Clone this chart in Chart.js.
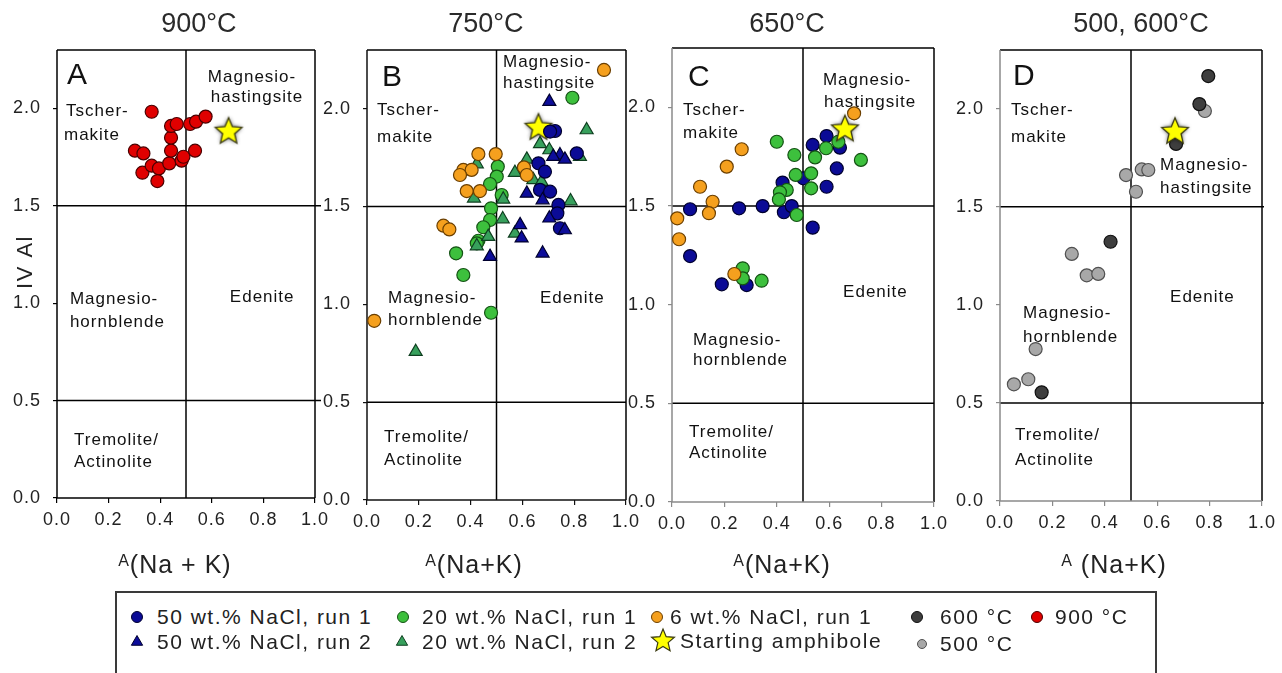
<!DOCTYPE html>
<html><head><meta charset="utf-8">
<script src="https://cdn.jsdelivr.net/npm/chart.js@4.4.1/dist/chart.umd.min.js"></script>
<style>
html,body{margin:0;padding:0;background:#fff;width:1282px;height:673px;overflow:hidden;font-family:"Liberation Sans",Arial,sans-serif;}
canvas{position:absolute;top:0;}
#legend{position:absolute;left:115px;top:591px;width:1042px;height:100px;border:2px solid #3a3a3a;box-sizing:border-box;}
.lt{position:absolute;font-size:21px;letter-spacing:1.5px;color:#222;white-space:nowrap;line-height:21px;height:21px;}
</style></head><body>
<div id="legend"></div>
<script>
// ---------------- data ----------------
const TITLES  = ['900°C', '750°C', '650°C', '500, 600°C'];
const LETTERS = ['A', 'B', 'C', 'D'];
const X_TICKS = [0, 0.2, 0.4, 0.6, 0.8, 1.0];
const Y_TICKS = [0, 0.5, 1.0, 1.5, 2.0];

// Panel A – 900 °C
const A_900C  = [[0.367,1.983],[0.302,1.783],[0.335,1.769],[0.331,1.670],[0.367,1.706],[0.395,1.692],
                 [0.389,1.627],[0.435,1.718],[0.442,1.783],[0.442,1.850],[0.442,1.910],[0.464,1.920],
                 [0.483,1.732],[0.490,1.752],[0.516,1.920],[0.539,1.932],[0.576,1.958],[0.535,1.783]];
const A_START = [[0.665,1.886]];

// Panel B – 750 °C
const B_NACL50_R1 = [[0.726,1.886],[0.707,1.883],[0.810,1.772],[0.662,1.721],[0.687,1.678],[0.668,1.585],
                     [0.707,1.576],[0.739,1.508],[0.735,1.465],[0.745,1.389]];
const B_NACL50_R2 = [[0.704,2.036],[0.745,1.763],[0.764,1.741],[0.719,1.755],[0.617,1.567],[0.678,1.533],
                     [0.704,1.440],[0.764,1.380],[0.591,1.406],[0.597,1.338],[0.678,1.261],[0.475,1.244]];
const B_NACL20_R1 = [[0.793,2.056],[0.505,1.704],[0.501,1.653],[0.475,1.615],[0.520,1.559],[0.479,1.491],
                     [0.475,1.431],[0.449,1.394],[0.430,1.325],[0.424,1.312],[0.344,1.261],[0.372,1.150],[0.479,0.957]];
const B_NACL20_R2 = [[0.848,1.891],[0.668,1.820],[0.704,1.789],[0.822,1.755],[0.571,1.673],[0.642,1.636],
                     [0.674,1.627],[0.424,1.717],[0.413,1.542],[0.526,1.537],[0.524,1.436],[0.571,1.363],
                     [0.468,1.346],[0.424,1.298],[0.786,1.528],[0.188,0.758],[0.617,1.741]];
const B_NACL6_R1  = [[0.915,2.198],[0.430,1.768],[0.497,1.768],[0.372,1.687],[0.404,1.687],[0.359,1.661],
                     [0.385,1.579],[0.436,1.579],[0.606,1.700],[0.617,1.661],[0.295,1.402],[0.318,1.383],[0.028,0.916]];
const B_START = [[0.662,1.908]];

// Panel C – 650 °C
const C_NACL50_R1 = [[0.590,1.854],[0.537,1.809],[0.641,1.795],[0.629,1.690],[0.590,1.597],[0.501,1.640],
                     [0.422,1.618],[0.069,1.483],[0.256,1.488],[0.346,1.499],[0.427,1.468],[0.457,1.499],
                     [0.537,1.390],[0.069,1.246],[0.190,1.103],[0.285,1.099]];
const C_NACL20_R1 = [[0.400,1.825],[0.467,1.758],[0.472,1.657],[0.438,1.581],[0.412,1.569],[0.408,1.533],
                     [0.476,1.454],[0.546,1.746],[0.531,1.665],[0.531,1.589],[0.588,1.792],[0.635,1.825],
                     [0.721,1.733],[0.270,1.184],[0.270,1.133],[0.342,1.121]];
const C_NACL6_R1  = [[0.695,1.969],[0.266,1.787],[0.209,1.699],[0.107,1.597],[0.155,1.521],[0.141,1.463],
                     [0.020,1.437],[0.027,1.331],[0.238,1.155]];
const C_START = [[0.660,1.893]];

// Panel D – 500 and 600 °C
const D_600C = [[0.795,2.167],[0.761,2.024],[0.672,1.821],[0.422,1.322],[0.159,0.554]];
const D_500C = [[0.782,1.989],[0.481,1.662],[0.541,1.691],[0.566,1.688],[0.519,1.577],[0.274,1.260],
                [0.331,1.151],[0.375,1.158],[0.136,0.775],[0.053,0.595],[0.108,0.621]];
const D_START = [[0.668,1.888]];

// ---------------- styles ----------------
const FONT = '"Liberation Sans", Arial, sans-serif';
const ST = {
  red:    {shape:'circle',   r:6.5, fill:'#e00000', stroke:'#4a0000'},
  blueC:  {shape:'circle',   r:6.5, fill:'#0b0b96', stroke:'#00002e'},
  blueT:  {shape:'triangle', r:7.5, fill:'#0d0d9a', stroke:'#00002e'},
  greenC: {shape:'circle',   r:6.5, fill:'#3dc03d', stroke:'#145214'},
  greenT: {shape:'triangle', r:7.5, fill:'#37a05c', stroke:'#0f3f20'},
  orange: {shape:'circle',   r:6.5, fill:'#f5a01e', stroke:'#6b3f00'},
  dark:   {shape:'circle',   r:6.5, fill:'#3e3e3e', stroke:'#101010'},
  light:  {shape:'circle',   r:6.5, fill:'#a8a8a8', stroke:'#505050'},
  star:   {shape:'star',     r:14,  fill:'#ffff00', stroke:'#3a3a10'}
};

function drawStar(ctx, cx, cy, R, fill, stroke, lw, glow) {
  ctx.save();
  ctx.beginPath();
  for (let i = 0; i < 10; i++) {
    const a = -Math.PI / 2 + i * Math.PI / 5;
    const rad = i % 2 === 0 ? R : R * 0.45;
    const px = cx + rad * Math.cos(a), py = cy + rad * Math.sin(a);
    if (i === 0) ctx.moveTo(px, py); else ctx.lineTo(px, py);
  }
  ctx.closePath();
  if (glow) { ctx.shadowColor = 'rgba(0,0,0,0.75)'; ctx.shadowBlur = glow; }
  ctx.fillStyle = fill; ctx.fill();
  ctx.shadowBlur = 0; ctx.shadowColor = 'transparent';
  ctx.lineWidth = lw; ctx.strokeStyle = stroke; ctx.stroke();
  ctx.restore();
}
function makeStarImage(R, glow) {
  const c = document.createElement('canvas');
  const s = Math.ceil(R * 2 + 10);
  c.width = s; c.height = s;
  drawStar(c.getContext('2d'), s / 2, s / 2 + 1, R, ST.star.fill, ST.star.stroke, 1.3, glow);
  return c;
}
const STAR_IMG = makeStarImage(ST.star.r, 4);

// ---------------- decoration plugin ----------------
const decor = {
  id: 'decor',
  beforeDraw(chart) { chart.ctx.letterSpacing = '1px'; },
  beforeDatasetsDraw(chart, args, o) {
    const ctx = chart.ctx, {left, right, top, bottom} = chart.chartArea;
    const xs = chart.scales.x, ys = chart.scales.y;
    ctx.save();
    ctx.lineCap = 'butt';
    const ln = (x1, y1, x2, y2, col, w) => { ctx.beginPath(); ctx.strokeStyle = col; ctx.lineWidth = w; ctx.moveTo(x1, y1); ctx.lineTo(x2, y2); ctx.stroke(); };
    // classification boundaries
    const xm = xs.getPixelForValue(0.5);
    ln(xm, top, xm, bottom, '#000', 1.5);
    [1.5, 0.5].forEach(v => { const yy = ys.getPixelForValue(v); ln(left, yy, right + o.ext, yy, '#000', 1.5); });
    // frame
    ln(left, top, right, top, '#000', 1.5);
    ln(right, top, right, bottom, '#000', 1.5);
    ln(left, top, left, bottom, o.axisColor, 1.5);
    ln(left, bottom, right, bottom, o.axisColor, 1.5);
    // panel title
    ctx.letterSpacing = '0px';
    ctx.fillStyle = '#2a2a2a';
    ctx.font = '27px ' + FONT; ctx.textAlign = 'center'; ctx.textBaseline = 'middle';
    ctx.fillText(o.title, xs.getPixelForValue(o.titleX), 25);
    // panel letter
    ctx.fillStyle = '#111';
    ctx.font = '30px ' + FONT; ctx.textAlign = 'left';
    ctx.fillText(o.letter, xs.getPixelForValue(o.letterPos[0]), ys.getPixelForValue(o.letterPos[1]));
    // region names
    ctx.letterSpacing = '1px';
    ctx.font = '17px ' + FONT; ctx.fillStyle = '#111';
    o.labels.forEach(l => {
      ctx.textAlign = l[3] || 'left';
      ctx.fillText(l[0], xs.getPixelForValue(l[1]), ys.getPixelForValue(l[2]));
    });
    // x axis title with superscript A
    ctx.fillStyle = '#222'; ctx.textBaseline = 'alphabetic'; ctx.textAlign = 'left';
    ctx.font = '16px ' + FONT; const ws = ctx.measureText('A').width;
    ctx.font = '25px ' + FONT; const wm = ctx.measureText(o.xTitle).width;
    const tot = ws + o.xGap + wm;
    const x0 = xs.getPixelForValue(o.xTitleX) - tot / 2;
    ctx.font = '16px ' + FONT; ctx.fillText('A', x0, 566);
    ctx.font = '25px ' + FONT; ctx.fillText(o.xTitle, x0 + ws + o.xGap, 573);
    // y axis title
    if (o.yTitle) {
      ctx.save();
      ctx.translate(26, 262); ctx.rotate(-Math.PI / 2);
      ctx.letterSpacing = '1.5px';
      ctx.font = '22px ' + FONT; ctx.textAlign = 'center'; ctx.textBaseline = 'middle';
      ctx.fillText(o.yTitle, 0, 0);
      ctx.restore();
    }
    ctx.restore();
  }
};

// ---------------- panels ----------------
const CH = 590;
const PANELS = [
  { cl: 0, cw: 335, area: {left: 57, right: 315, top: 50, bottom: 498}, axisColor: '#000', ext: 6,
    titleX: 0.55, letterPos: [0.039, 2.166], xTitle: '(Na + K)', xTitleX: 0.457, xGap: 0, yTitle: 'IV Al',
    series: [[A_START, ST.star], [A_900C, ST.red]],
    labels: [['Magnesio-',0.756,2.161,'center'],['hastingsite',0.775,2.059,'center'],
             ['Tscher-',0.035,1.987],['makite',0.027,1.863],
             ['Magnesio-',0.05,1.022],['hornblende',0.05,0.904],['Edenite',0.67,1.032],
             ['Tremolite/',0.066,0.298],['Actinolite',0.066,0.185]] },
  { cl: 320, cw: 325, area: {left: 367, right: 626, top: 50, bottom: 500}, axisColor: '#111', ext: 0,
    titleX: 0.459, letterPos: [0.058, 2.157], xTitle: '(Na+K)', xTitleX: 0.413, xGap: 0,
    series: [[B_NACL50_R2, ST.blueT], [B_NACL50_R1, ST.blueC], [B_START, ST.star], [B_NACL6_R1, ST.orange],
             [B_NACL20_R2, ST.greenT], [B_NACL20_R1, ST.greenC]],
    labels: [['Magnesio-',0.525,2.239],['hastingsite',0.525,2.131],
             ['Tscher-',0.039,1.993],['makite',0.039,1.855],
             ['Magnesio-',0.081,1.032],['hornblende',0.081,0.92],['Edenite',0.668,1.032],
             ['Tremolite/',0.066,0.322],['Actinolite',0.066,0.204]] },
  { cl: 628, cw: 325, area: {left: 672, right: 934, top: 48, bottom: 502}, axisColor: '#8a8a8a', ext: 0,
    titleX: 0.439, letterPos: [0.061, 2.148], xTitle: '(Na+K)', xTitleX: 0.42, xGap: 0,
    series: [[C_NACL6_R1, ST.orange], [C_START, ST.star], [C_NACL20_R1, ST.greenC], [C_NACL50_R1, ST.blueC]],
    labels: [['Magnesio-',0.576,2.138],['hastingsite',0.58,2.026],
             ['Tscher-',0.042,1.986],['makite',0.042,1.869],['Edenite',0.653,1.064],
             ['Magnesio-',0.08,0.821],['hornblende',0.08,0.719],
             ['Tremolite/',0.065,0.355],['Actinolite',0.065,0.248]] },
  { cl: 945, cw: 337, area: {left: 1000, right: 1262, top: 50, bottom: 501}, axisColor: '#8a8a8a', ext: 2,
    titleX: 0.538, letterPos: [0.05, 2.162], xTitle: '(Na+K)', xTitleX: 0.435, xGap: 8,
    series: [[D_START, ST.star], [D_600C, ST.dark], [D_500C, ST.light]],
    labels: [['Tscher-',0.042,1.994],['makite',0.042,1.856],
             ['Magnesio-',0.611,1.713],['hastingsite',0.611,1.596],['Edenite',0.649,1.04],
             ['Magnesio-',0.088,0.959],['hornblende',0.088,0.836],
             ['Tremolite/',0.057,0.337],['Actinolite',0.057,0.209]] }
];

PANELS.forEach((p, i) => {
  const cv = document.createElement('canvas');
  cv.width = p.cw; cv.height = CH;
  cv.style.left = p.cl + 'px';
  cv.style.width = p.cw + 'px'; cv.style.height = CH + 'px';
  document.body.appendChild(cv);
  const yW = p.area.left - p.cl, xH = CH - p.area.bottom;
  new Chart(cv, {
    type: 'scatter',
    data: { datasets: p.series.map(([pts, st]) => ({
      data: pts.map(q => ({x: q[0], y: q[1]})),
      pointStyle: st.shape === 'star' ? STAR_IMG : st.shape,
      pointRadius: st.r, pointHoverRadius: st.r,
      pointBackgroundColor: st.fill, pointBorderColor: st.stroke, pointBorderWidth: 1.2,
      clip: false
    })) },
    options: {
      responsive: false, animation: false, devicePixelRatio: 1, events: [],
      layout: { padding: { top: p.area.top, left: 0, bottom: 0, right: p.cl + p.cw - p.area.right } },
      plugins: {
        legend: { display: false }, tooltip: { enabled: false },
        decor: { title: TITLES[i], titleX: p.titleX, letter: LETTERS[i], letterPos: p.letterPos,
                 labels: p.labels, axisColor: p.axisColor, ext: p.ext,
                 xTitle: p.xTitle, xTitleX: p.xTitleX, xGap: p.xGap, yTitle: p.yTitle }
      },
      scales: {
        x: { type: 'linear', min: 0, max: 1,
             afterBuildTicks: s => { s.ticks = X_TICKS.map(v => ({value: v})); },
             afterFit: s => { s.height = xH; },
             ticks: { callback: v => Number(v).toFixed(1), font: { size: 18, family: FONT }, color: '#222',
                      padding: 6, maxRotation: 0, autoSkip: false },
             grid: { drawOnChartArea: false, tickLength: 5, color: p.axisColor, lineWidth: 1.2 },
             border: { display: false } },
        y: { type: 'linear', min: 0, max: 2.3,
             afterBuildTicks: s => { s.ticks = Y_TICKS.map(v => ({value: v})); },
             afterFit: s => { s.width = yW; },
             ticks: { callback: v => Number(v).toFixed(1), font: { size: 18, family: FONT }, color: '#222',
                      padding: 12, autoSkip: false },
             grid: { drawOnChartArea: false, tickLength: 4, color: p.axisColor, lineWidth: 1.2 },
             border: { display: false } }
      }
    },
    plugins: [decor]
  });
});

// ---------------- legend (HTML) ----------------
const LEGEND = [
  { st: ST.blueC,  mx: 137, my: 617, tx: 157, text: '50 wt.% NaCl, run 1', mr: 5.5 },
  { st: ST.greenC, mx: 403, my: 617, tx: 422, text: '20 wt.% NaCl, run 1', mr: 5.5 },
  { st: ST.orange, mx: 657, my: 617, tx: 670, text: '6 wt.% NaCl, run 1',  mr: 5.5 },
  { st: ST.dark,   mx: 917, my: 617, tx: 940, text: '600 °C',              mr: 5.5 },
  { st: ST.red,    mx: 1037, my: 617, tx: 1055, text: '900 °C',            mr: 5.5 },
  { st: ST.blueT,  mx: 137, my: 642, tx: 157, text: '50 wt.% NaCl, run 2', mr: 6.5 },
  { st: ST.greenT, mx: 402, my: 642, tx: 422, text: '20 wt.% NaCl, run 2', mr: 6.5 },
  { st: ST.star,   mx: 663, my: 641, tx: 680, text: 'Starting amphibole',  mr: 12 },
  { st: ST.light,  mx: 922, my: 644, tx: 940, text: '500 °C',              mr: 4.5 }
];
LEGEND.forEach(it => {
  const c = document.createElement('canvas');
  c.width = 32; c.height = 32;
  c.style.left = (it.mx - 16) + 'px'; c.style.top = (it.my - 16) + 'px';
  c.style.width = '32px'; c.style.height = '32px';
  const g = c.getContext('2d');
  const st = it.st;
  if (st.shape === 'star') {
    drawStar(g, 16, 16, it.mr, st.fill, st.stroke, 1.2, 0);
  } else {
    g.beginPath();
    if (st.shape === 'circle') g.arc(16, 16, it.mr, 0, Math.PI * 2);
    else { const r = it.mr; g.moveTo(16, 16 - r); g.lineTo(16 + r * 0.866, 16 + r * 0.5); g.lineTo(16 - r * 0.866, 16 + r * 0.5); g.closePath(); }
    g.fillStyle = st.fill; g.fill(); g.lineWidth = 1; g.strokeStyle = st.stroke; g.stroke();
  }
  document.body.appendChild(c);
  const t = document.createElement('div');
  t.className = 'lt'; t.textContent = it.text;
  t.style.left = it.tx + 'px'; t.style.top = (it.my - 11) + 'px';
  document.body.appendChild(t);
});
</script>
</body></html>
